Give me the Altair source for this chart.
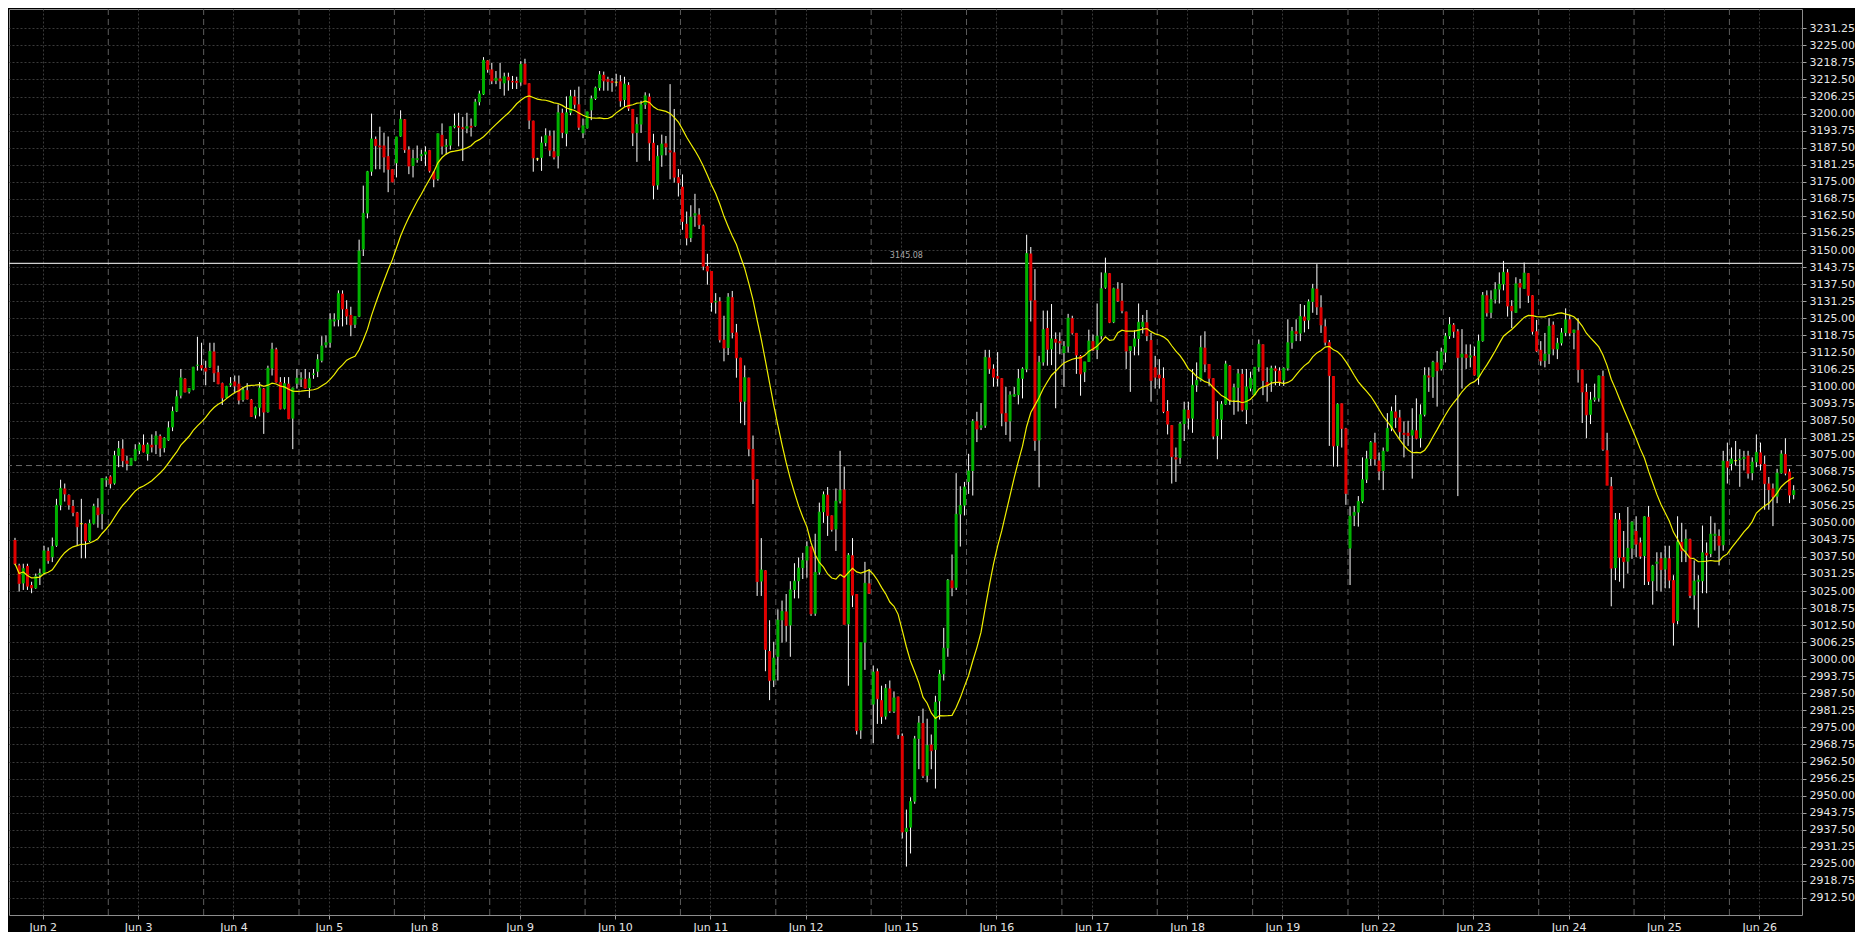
import altair as alt
import pandas as pd

# ---------------- data ----------------
O = [
    3043.7, 3034.4, 3027.8, 3034.2, 3027.2, 3026.0, 3030.8, 3031.4, 3039.7, 3037.4,
    3041.6, 3056.4, 3062.6, 3060.2, 3056.2, 3053.8, 3049.7, 3049.7, 3043.4, 3049.7,
    3055.6, 3053.2, 3065.6, 3067.0, 3064.4, 3074.6, 3077.2, 3072.8, 3071.0, 3072.8,
    3076.4, 3078.6, 3075.2, 3078.6, 3078.6, 3081.8, 3077.4, 3080.2, 3085.0, 3090.8,
    3096.6, 3102.8, 3098.0, 3098.8, 3107.6, 3107.8, 3106.8, 3107.0, 3112.8, 3105.2,
    3101.2, 3095.8, 3100.4, 3101.8, 3101.0, 3095.0, 3098.6, 3095.2, 3089.4, 3092.2,
    3099.2, 3090.6, 3106.6, 3113.6, 3101.6, 3091.8, 3101.0, 3088.2, 3101.0, 3102.6,
    3102.8, 3099.4, 3104.2, 3105.4, 3109.4, 3115.1, 3116.0, 3123.8, 3124.4, 3134.0,
    3128.4, 3126.2, 3122.6, 3125.6, 3150.2, 3163.4, 3178.7, 3190.7, 3188.3, 3188.3,
    3184.4, 3179.6, 3181.8, 3191.6, 3197.9, 3186.8, 3180.8, 3183.0, 3184.4, 3185.0,
    3186.6, 3178.7, 3176.0, 3192.2, 3187.8, 3188.3, 3195.0, 3195.5, 3195.0, 3194.5,
    3195.5, 3195.5, 3204.2, 3207.0, 3219.5, 3216.2, 3212.0, 3212.9, 3211.1, 3213.5,
    3212.0, 3212.0, 3211.4, 3218.3, 3211.1, 3197.4, 3183.4, 3183.8, 3189.2, 3191.9,
    3186.2, 3184.4, 3200.3, 3192.6, 3200.3, 3206.3, 3203.4, 3192.8, 3194.6, 3201.2,
    3205.4, 3209.4, 3214.2, 3212.6, 3212.0, 3211.5, 3211.8, 3205.0, 3210.5, 3201.7,
    3192.9, 3196.0, 3203.2, 3206.2, 3189.3, 3173.7, 3184.7, 3189.1, 3186.5, 3185.8,
    3176.7, 3173.2, 3159.6, 3154.4, 3162.6, 3163.0, 3159.0, 3144.1, 3142.3, 3130.8,
    3131.2, 3117.1, 3114.1, 3132.7, 3119.8, 3110.5, 3094.4, 3103.2, 3077.1, 3066.0,
    3028.5, 3032.6, 3003.0, 2992.2, 3000.9, 3014.3, 3017.5, 3012.4, 3025.4, 3028.6,
    3033.4, 3036.2, 3041.3, 3016.7, 3031.8, 3053.9, 3060.3, 3052.7, 3047.6, 3057.9,
    3062.2, 3012.8, 3038.1, 3023.9, 2973.9, 3006.1, 3027.8, 2983.4, 2995.6, 2985.0,
    2979.0, 2989.3, 2980.8, 2986.3, 2971.9, 2936.7, 2938.3, 2947.8, 2970.8, 2976.6,
    2957.3, 2968.7, 2966.8, 2984.6, 2994.5, 3004.0, 3028.9, 3026.2, 3053.1, 3056.3,
    3065.0, 3069.0, 3087.2, 3084.8, 3085.6, 3110.6, 3106.5, 3103.8, 3103.0, 3090.2,
    3087.2, 3096.3, 3096.8, 3102.8, 3106.2, 3148.7, 3131.6, 3080.2, 3108.8, 3121.4,
    3113.6, 3117.4, 3116.6, 3112.2, 3114.6, 3125.0, 3119.6, 3111.2, 3105.2, 3109.0,
    3116.6, 3113.4, 3118.4, 3136.2, 3141.5, 3123.5, 3135.8, 3131.4, 3127.4, 3113.0,
    3114.6, 3117.4, 3121.8, 3123.5, 3117.0, 3107.0, 3104.3, 3103.1, 3091.0, 3085.8,
    3074.0, 3073.8, 3086.2, 3091.4, 3088.2, 3100.4, 3102.2, 3114.2, 3108.2, 3103.0,
    3081.8, 3087.8, 3093.4, 3107.6, 3095.0, 3099.5, 3104.6, 3091.4, 3099.2, 3096.8,
    3107.0, 3115.4, 3101.6, 3101.8, 3106.6, 3105.8, 3102.2, 3106.6, 3116.0, 3120.2,
    3119.4, 3125.6, 3124.2, 3131.0, 3135.8, 3129.0, 3122.0, 3116.2, 3103.8, 3078.2,
    3093.8, 3084.6, 3040.6, 3052.6, 3053.8, 3057.8, 3065.8, 3073.4, 3079.4, 3072.8,
    3069.0, 3076.2, 3084.6, 3090.8, 3088.6, 3083.0, 3083.0, 3082.0, 3083.9, 3081.0,
    3089.6, 3104.0, 3103.4, 3108.8, 3106.4, 3112.4, 3118.4, 3122.6, 3120.2, 3110.6,
    3111.8, 3110.6, 3111.2, 3103.4, 3116.6, 3133.4, 3127.0, 3131.8, 3135.5, 3137.4,
    3141.8, 3129.5, 3127.0, 3137.9, 3135.8, 3141.5, 3133.4, 3120.2, 3113.4, 3109.4,
    3111.8, 3122.6, 3113.6, 3115.8, 3119.6, 3124.6, 3119.6, 3120.6, 3106.2, 3098.0,
    3089.6, 3095.0, 3095.6, 3103.8, 3076.6, 3063.4, 3033.4, 3051.2, 3037.4, 3035.8,
    3040.6, 3047.0, 3042.8, 3037.8, 3052.2, 3028.6, 3035.0, 3037.0, 3032.9, 3037.0,
    3029.0, 3014.0, 3043.0, 3039.8, 3044.0, 3023.4, 3028.4, 3028.6, 3039.0, 3038.6,
    3045.2, 3045.2, 3041.8, 3072.6, 3071.6, 3072.8, 3073.0, 3073.4, 3074.6, 3068.2,
    3072.2, 3075.8, 3071.6, 3064.4, 3062.6, 3059.6, 3068.2, 3075.2, 3068.8, 3060.2,
]
H = [
    3044.5, 3035.0, 3035.0, 3035.0, 3028.4, 3031.4, 3033.2, 3041.6, 3041.0, 3044.6,
    3058.8, 3065.8, 3064.4, 3060.4, 3058.4, 3054.0, 3058.8, 3049.8, 3051.2, 3057.0,
    3059.0, 3066.4, 3067.0, 3067.4, 3076.4, 3080.0, 3080.6, 3074.6, 3073.8, 3078.8,
    3079.4, 3082.4, 3079.4, 3082.4, 3083.6, 3082.4, 3081.4, 3087.2, 3092.6, 3098.6,
    3106.4, 3103.0, 3099.4, 3107.2, 3118.2, 3116.0, 3109.4, 3116.0, 3116.0, 3107.6,
    3101.4, 3100.2, 3103.4, 3104.0, 3104.0, 3099.8, 3101.2, 3095.4, 3092.6, 3101.6,
    3099.4, 3107.6, 3116.0, 3114.2, 3103.4, 3103.4, 3103.4, 3099.6, 3106.4, 3105.2,
    3106.4, 3105.2, 3106.4, 3111.8, 3118.4, 3118.7, 3126.8, 3126.8, 3135.2, 3135.2,
    3131.6, 3129.2, 3125.6, 3153.8, 3173.6, 3179.0, 3200.0, 3191.6, 3195.2, 3193.0,
    3191.6, 3179.6, 3191.5, 3201.2, 3198.0, 3188.0, 3186.8, 3188.3, 3186.8, 3188.0,
    3186.7, 3178.8, 3192.7, 3196.4, 3190.7, 3195.3, 3200.0, 3200.3, 3198.8, 3200.3,
    3198.2, 3205.4, 3208.4, 3220.7, 3219.6, 3218.6, 3215.6, 3218.6, 3215.0, 3215.0,
    3213.8, 3213.5, 3219.2, 3220.1, 3211.1, 3197.4, 3183.8, 3191.6, 3194.6, 3193.8,
    3193.8, 3203.4, 3201.8, 3206.3, 3208.7, 3208.7, 3209.9, 3198.2, 3200.7, 3206.6,
    3209.9, 3215.6, 3215.4, 3213.5, 3213.0, 3214.6, 3214.1, 3213.5, 3211.5, 3201.7,
    3198.7, 3204.7, 3207.8, 3207.4, 3192.6, 3188.4, 3192.3, 3191.8, 3210.8, 3201.7,
    3179.7, 3177.7, 3164.1, 3166.4, 3170.6, 3165.3, 3159.3, 3148.6, 3142.3, 3134.2,
    3132.7, 3125.9, 3134.2, 3135.0, 3122.9, 3110.5, 3107.7, 3103.2, 3082.0, 3066.0,
    3044.4, 3032.6, 3014.3, 3006.4, 3018.3, 3021.5, 3023.9, 3028.6, 3035.2, 3037.3,
    3039.0, 3043.2, 3041.3, 3046.0, 3057.4, 3061.5, 3063.1, 3052.7, 3062.6, 3076.4,
    3070.6, 3038.9, 3044.4, 3023.9, 3006.1, 3035.7, 3033.0, 2997.7, 2996.6, 2990.3,
    2990.9, 2992.2, 2988.2, 2986.3, 2972.8, 2944.9, 2949.4, 2971.9, 2979.2, 2981.9,
    2978.2, 2972.4, 2986.6, 2996.1, 3011.5, 3029.4, 3038.4, 3068.2, 3063.4, 3065.0,
    3075.3, 3088.0, 3090.7, 3093.9, 3113.4, 3113.4, 3108.1, 3112.6, 3103.0, 3099.8,
    3098.2, 3099.8, 3106.4, 3107.0, 3155.6, 3151.1, 3143.0, 3111.2, 3127.8, 3127.8,
    3130.2, 3119.8, 3119.8, 3116.6, 3126.6, 3125.9, 3119.6, 3111.5, 3109.0, 3120.8,
    3119.0, 3130.4, 3141.8, 3147.2, 3141.5, 3136.2, 3138.2, 3137.9, 3127.4, 3114.6,
    3120.6, 3130.4, 3126.2, 3128.0, 3119.6, 3111.2, 3110.0, 3107.0, 3095.0, 3085.8,
    3077.6, 3087.0, 3094.4, 3094.4, 3106.4, 3108.8, 3118.6, 3120.2, 3108.2, 3103.0,
    3094.6, 3094.6, 3109.4, 3107.8, 3101.0, 3106.4, 3106.4, 3106.4, 3105.4, 3107.0,
    3117.2, 3115.4, 3107.0, 3107.6, 3107.6, 3107.0, 3107.0, 3124.6, 3121.8, 3124.6,
    3130.2, 3129.8, 3131.9, 3137.6, 3144.8, 3133.4, 3124.6, 3117.0, 3103.8, 3093.8,
    3093.8, 3084.8, 3056.0, 3056.2, 3059.8, 3074.0, 3076.4, 3080.0, 3083.0, 3075.8,
    3077.6, 3090.2, 3092.6, 3096.8, 3091.4, 3087.2, 3087.4, 3092.0, 3095.6, 3093.4,
    3107.0, 3107.0, 3109.4, 3113.0, 3114.2, 3119.6, 3125.4, 3123.2, 3121.0, 3121.0,
    3115.4, 3115.4, 3114.6, 3119.0, 3134.6, 3135.2, 3135.2, 3138.2, 3141.8, 3146.0,
    3143.0, 3131.6, 3140.0, 3139.4, 3145.4, 3141.5, 3133.4, 3124.4, 3116.6, 3119.6,
    3125.0, 3123.8, 3117.8, 3121.4, 3128.6, 3126.2, 3120.8, 3125.0, 3106.2, 3101.0,
    3098.0, 3101.0, 3104.0, 3105.8, 3083.0, 3066.8, 3053.6, 3053.6, 3047.0, 3055.8,
    3050.6, 3052.4, 3044.6, 3052.4, 3056.2, 3034.6, 3039.2, 3039.2, 3041.6, 3041.6,
    3030.8, 3052.4, 3050.0, 3047.6, 3044.2, 3036.2, 3030.8, 3049.0, 3042.8, 3052.4,
    3050.0, 3047.6, 3076.4, 3079.4, 3077.6, 3080.0, 3077.0, 3076.4, 3076.4, 3074.0,
    3082.4, 3079.4, 3074.6, 3066.8, 3064.4, 3069.8, 3076.6, 3081.0, 3069.8, 3063.8,
]
L = [
    3034.5, 3024.8, 3025.4, 3025.4, 3024.2, 3025.8, 3027.2, 3031.0, 3035.0, 3035.6,
    3041.2, 3054.6, 3057.8, 3054.8, 3052.4, 3041.6, 3037.0, 3037.0, 3043.0, 3049.4,
    3048.2, 3047.6, 3063.2, 3062.6, 3064.0, 3070.4, 3070.4, 3069.2, 3070.8, 3072.6,
    3075.2, 3075.8, 3072.8, 3075.8, 3075.2, 3074.2, 3075.8, 3080.0, 3083.6, 3090.6,
    3095.6, 3097.8, 3097.4, 3098.6, 3105.8, 3105.8, 3100.4, 3106.8, 3101.6, 3100.8,
    3093.2, 3095.6, 3099.8, 3097.4, 3093.4, 3094.4, 3095.2, 3088.8, 3088.2, 3089.0,
    3082.6, 3090.4, 3104.0, 3101.4, 3091.6, 3091.6, 3088.0, 3077.0, 3099.2, 3099.8,
    3099.2, 3095.8, 3102.8, 3103.4, 3108.8, 3114.2, 3114.2, 3122.0, 3122.0, 3122.0,
    3122.6, 3118.4, 3121.4, 3125.4, 3147.8, 3161.6, 3177.2, 3179.6, 3179.6, 3178.4,
    3171.2, 3174.8, 3176.6, 3191.5, 3185.6, 3177.8, 3176.6, 3182.0, 3182.6, 3180.8,
    3178.4, 3173.0, 3175.4, 3185.0, 3185.0, 3186.8, 3194.6, 3188.0, 3182.6, 3192.8,
    3191.6, 3195.2, 3203.0, 3206.8, 3215.0, 3210.8, 3210.8, 3209.0, 3206.6, 3208.4,
    3209.0, 3209.0, 3210.2, 3210.8, 3194.3, 3178.7, 3182.6, 3179.0, 3188.0, 3184.4,
    3183.2, 3179.9, 3191.0, 3188.0, 3199.4, 3201.8, 3194.0, 3191.0, 3194.5, 3197.6,
    3205.0, 3208.4, 3208.4, 3208.4, 3208.0, 3210.0, 3202.5, 3202.5, 3201.0, 3188.1,
    3182.3, 3192.9, 3201.7, 3182.7, 3168.6, 3172.1, 3180.5, 3184.7, 3175.9, 3174.7,
    3169.6, 3157.4, 3151.7, 3152.9, 3158.5, 3157.7, 3142.6, 3137.3, 3127.4, 3126.7,
    3116.1, 3109.2, 3111.5, 3117.6, 3103.2, 3086.5, 3085.8, 3074.4, 3056.9, 3023.2,
    3023.2, 2995.6, 2985.0, 2989.8, 2992.2, 3006.1, 3006.4, 3000.9, 3022.3, 3022.3,
    3029.4, 3029.9, 3015.9, 3015.9, 3031.0, 3050.0, 3045.2, 3046.8, 3039.7, 3057.1,
    3012.8, 2990.3, 3019.1, 2972.4, 2970.8, 2996.1, 3023.9, 2969.2, 2976.3, 2976.3,
    2977.9, 2980.3, 2980.3, 2970.8, 2934.3, 2924.0, 2928.8, 2947.0, 2959.7, 2956.5,
    2954.9, 2959.7, 2952.6, 2977.9, 2992.2, 3000.9, 3023.1, 3025.4, 3041.3, 3052.7,
    3060.6, 3060.0, 3079.6, 3084.0, 3084.8, 3104.6, 3099.9, 3100.0, 3085.4, 3082.2,
    3079.8, 3096.2, 3093.4, 3095.6, 3105.2, 3123.8, 3076.4, 3063.0, 3107.6, 3107.6,
    3107.8, 3092.0, 3111.8, 3099.8, 3112.4, 3119.0, 3104.6, 3096.6, 3101.6, 3109.0,
    3113.0, 3110.0, 3117.2, 3135.8, 3123.2, 3123.2, 3131.0, 3126.8, 3106.4, 3098.0,
    3111.4, 3111.4, 3119.4, 3116.6, 3094.4, 3099.2, 3099.2, 3090.2, 3082.4, 3064.4,
    3065.0, 3071.6, 3080.0, 3084.2, 3083.0, 3098.0, 3101.8, 3105.2, 3100.2, 3080.6,
    3073.3, 3080.6, 3093.2, 3093.2, 3089.6, 3090.8, 3090.8, 3086.2, 3098.2, 3096.8,
    3105.4, 3096.8, 3094.4, 3098.0, 3100.4, 3100.2, 3100.2, 3105.8, 3113.8, 3116.6,
    3116.6, 3119.8, 3121.0, 3127.0, 3126.2, 3119.6, 3115.0, 3078.2, 3070.6, 3070.6,
    3077.6, 3056.6, 3027.2, 3048.8, 3048.6, 3057.2, 3064.6, 3071.0, 3071.0, 3065.6,
    3062.0, 3076.2, 3083.6, 3084.8, 3080.6, 3074.0, 3078.2, 3066.2, 3080.6, 3077.6,
    3089.0, 3098.0, 3095.8, 3092.6, 3105.8, 3108.8, 3117.4, 3117.8, 3059.8, 3099.2,
    3106.4, 3107.0, 3104.0, 3100.6, 3116.4, 3125.6, 3125.0, 3130.4, 3130.4, 3135.2,
    3125.6, 3121.4, 3127.0, 3128.6, 3135.8, 3130.6, 3119.0, 3112.6, 3107.6, 3107.0,
    3108.2, 3111.4, 3110.0, 3115.0, 3118.4, 3118.4, 3113.6, 3101.4, 3086.6, 3081.0,
    3086.2, 3094.4, 3094.4, 3076.4, 3063.8, 3019.4, 3029.0, 3028.4, 3026.0, 3031.4,
    3036.8, 3037.4, 3036.8, 3027.2, 3027.2, 3020.0, 3025.0, 3024.8, 3026.0, 3026.0,
    3005.0, 3012.8, 3035.6, 3035.6, 3022.4, 3018.2, 3011.6, 3024.2, 3024.2, 3037.4,
    3039.8, 3034.4, 3039.8, 3064.4, 3069.2, 3071.0, 3063.2, 3069.2, 3066.2, 3065.6,
    3070.4, 3069.2, 3054.8, 3054.8, 3048.8, 3057.2, 3068.0, 3067.4, 3057.2, 3058.6,
]
C = [
    3035.0, 3027.8, 3033.2, 3026.8, 3026.2, 3030.4, 3031.4, 3039.7, 3036.2, 3041.3,
    3056.4, 3062.6, 3060.6, 3056.6, 3053.8, 3048.6, 3049.7, 3043.4, 3049.7, 3056.0,
    3053.0, 3066.2, 3066.2, 3064.4, 3074.6, 3077.2, 3072.8, 3071.8, 3073.6, 3076.8,
    3078.6, 3076.0, 3078.6, 3077.8, 3081.8, 3077.4, 3081.0, 3084.8, 3090.8, 3096.2,
    3103.1, 3098.0, 3099.2, 3107.0, 3107.8, 3106.8, 3105.6, 3112.8, 3105.0, 3101.0,
    3095.8, 3100.0, 3101.0, 3100.2, 3095.0, 3098.6, 3095.4, 3089.0, 3092.2, 3099.4,
    3090.6, 3106.6, 3113.6, 3101.6, 3091.8, 3101.0, 3088.2, 3099.4, 3103.0, 3103.0,
    3099.4, 3102.8, 3104.6, 3109.8, 3114.8, 3116.0, 3124.4, 3124.4, 3134.0, 3128.4,
    3125.8, 3122.6, 3125.6, 3149.6, 3163.4, 3178.7, 3190.7, 3188.3, 3187.8, 3184.1,
    3179.6, 3175.0, 3191.4, 3197.9, 3186.8, 3180.8, 3183.5, 3183.5, 3185.0, 3185.9,
    3179.0, 3176.0, 3192.6, 3188.1, 3188.3, 3195.2, 3195.5, 3195.0, 3194.5, 3195.2,
    3195.0, 3204.2, 3207.2, 3219.5, 3216.2, 3212.0, 3212.9, 3212.0, 3213.5, 3212.3,
    3211.6, 3211.4, 3218.0, 3210.8, 3197.6, 3183.8, 3183.4, 3189.2, 3191.9, 3186.6,
    3184.1, 3200.3, 3193.1, 3200.3, 3206.3, 3203.4, 3195.0, 3195.5, 3200.6, 3205.4,
    3209.4, 3214.2, 3212.0, 3211.8, 3211.4, 3211.5, 3204.7, 3210.8, 3202.0, 3192.9,
    3196.0, 3203.2, 3206.5, 3189.3, 3173.7, 3184.3, 3188.8, 3187.8, 3185.9, 3176.7,
    3174.7, 3160.5, 3154.4, 3162.0, 3163.3, 3159.3, 3144.1, 3142.3, 3130.8, 3131.2,
    3117.1, 3114.1, 3132.7, 3119.8, 3110.5, 3094.4, 3103.2, 3077.1, 3066.0, 3028.5,
    3032.7, 3003.6, 2992.2, 3000.4, 3014.3, 3017.5, 3012.4, 3025.4, 3028.6, 3033.4,
    3036.2, 3041.3, 3016.7, 3031.8, 3053.9, 3060.3, 3052.7, 3047.6, 3057.9, 3061.9,
    3012.8, 3038.1, 3023.5, 2973.9, 3006.1, 3027.8, 3024.2, 2995.3, 2985.5, 2979.0,
    2989.3, 2981.1, 2985.8, 2972.4, 2936.7, 2938.0, 2947.8, 2970.8, 2976.6, 2957.3,
    2968.4, 2966.5, 2984.2, 2994.5, 3004.0, 3028.9, 3026.2, 3053.1, 3056.3, 3063.1,
    3069.0, 3087.2, 3084.4, 3085.6, 3110.6, 3106.5, 3103.4, 3103.0, 3090.2, 3087.2,
    3096.8, 3097.0, 3102.8, 3106.4, 3148.7, 3131.6, 3080.2, 3108.8, 3120.8, 3113.6,
    3117.4, 3116.2, 3116.0, 3114.6, 3125.0, 3119.6, 3111.5, 3104.6, 3109.0, 3116.6,
    3113.4, 3118.4, 3135.8, 3141.5, 3123.5, 3135.8, 3131.4, 3127.8, 3113.0, 3114.6,
    3117.4, 3123.5, 3123.5, 3118.6, 3102.2, 3103.4, 3103.1, 3090.8, 3086.2, 3074.3,
    3073.4, 3086.2, 3091.4, 3088.4, 3100.4, 3102.2, 3114.2, 3108.2, 3103.0, 3081.8,
    3087.8, 3093.4, 3108.2, 3095.0, 3099.5, 3104.6, 3091.4, 3099.8, 3103.0, 3107.0,
    3115.4, 3102.2, 3100.2, 3106.6, 3105.8, 3101.8, 3106.6, 3116.0, 3120.2, 3119.4,
    3125.6, 3124.2, 3131.0, 3135.8, 3129.2, 3122.6, 3116.2, 3104.0, 3078.2, 3093.4,
    3084.6, 3060.8, 3052.4, 3053.8, 3057.8, 3065.8, 3073.4, 3079.4, 3073.4, 3069.0,
    3076.2, 3084.6, 3090.8, 3088.6, 3083.4, 3082.4, 3082.0, 3083.9, 3081.0, 3089.6,
    3104.0, 3103.4, 3108.8, 3105.8, 3112.6, 3118.4, 3122.6, 3120.2, 3110.6, 3111.8,
    3110.6, 3111.2, 3104.2, 3116.6, 3133.4, 3127.0, 3131.8, 3135.5, 3137.4, 3141.8,
    3129.5, 3127.8, 3137.6, 3136.4, 3141.5, 3133.4, 3120.2, 3113.0, 3109.4, 3111.8,
    3122.0, 3113.8, 3115.8, 3119.6, 3124.4, 3119.6, 3120.6, 3106.2, 3098.0, 3089.6,
    3095.0, 3095.8, 3103.8, 3077.0, 3063.8, 3033.4, 3051.2, 3037.4, 3035.8, 3040.6,
    3050.2, 3042.2, 3037.8, 3052.2, 3028.6, 3034.2, 3035.6, 3032.9, 3037.0, 3029.0,
    3013.4, 3043.0, 3039.8, 3044.0, 3023.4, 3028.6, 3029.0, 3039.0, 3038.2, 3045.8,
    3045.8, 3041.8, 3072.6, 3070.4, 3073.4, 3072.8, 3073.4, 3074.0, 3068.2, 3072.2,
    3075.8, 3071.6, 3064.4, 3062.2, 3059.6, 3068.2, 3075.2, 3068.2, 3060.2, 3061.8,
]

day_labels = ["Jun 2", "Jun 3", "Jun 4", "Jun 5", "Jun 8", "Jun 9", "Jun 10",
              "Jun 11", "Jun 12", "Jun 15", "Jun 16", "Jun 17", "Jun 18",
              "Jun 19", "Jun 22", "Jun 23", "Jun 24", "Jun 25", "Jun 26"]
day_tick_pos = [6.7, 29.7, 52.7, 75.7, 98.7, 121.7, 144.7, 167.7, 190.7, 213.7,
                236.7, 259.7, 282.7, 305.7, 328.7, 351.7, 374.7, 397.7, 420.7]
session_breaks = [22.5, 45.5, 68.5, 91.5, 114.5, 137.5, 160.5, 183.5, 206.5,
                  229.5, 252.5, 275.5, 298.5, 321.5, 344.5, 367.5, 390.5, 413.5]
price_ticks = [2912.5 + 6.25 * k for k in range(52)]

level_line = 3145.08
level_text = "3145.08"
bid_line = 3071.0
ma_period = 20

# ---------------- chart ----------------
df = pd.DataFrame({"i": list(range(len(C))), "open": O, "high": H,
                   "low": L, "close": C})
df["dir"] = ["up" if c > o else ("down" if c < o else "doji")
             for o, c in zip(O, C)]

GREEN, RED, YELLOW = "#00b000", "#e00000", "#ffff00"
GRID = "#3a3a3a"
FONT = "DejaVu Sans"
W, HT = 1793, 906

xscale = alt.Scale(domain=[-0.24, 429.8], nice=False, zero=False)
yscale = alt.Scale(domain=[2906.25, 3238.34], nice=False, zero=False)

label_arr = "[" + ",".join("'%s'" % d for d in day_labels) + "]"
xaxis = alt.Axis(values=day_tick_pos,
                 labelExpr=label_arr + "[round((datum.value - 6.7) / 23)]",
                 grid=True, gridColor=GRID, gridDash=[2, 2], gridWidth=1,
                 ticks=True, tickSize=4, tickColor="#a0a0a0", domain=False,
                 labelColor="#e6e6e6", labelFont=FONT, labelFontSize=11,
                 labelPadding=2, labelOverlap=False, title=None)
yaxis = alt.Axis(orient="right", values=price_ticks, format=".2f",
                 grid=True, gridColor=GRID, gridDash=[2, 2], gridWidth=1,
                 ticks=True, tickSize=4, tickColor="#a0a0a0", domain=False,
                 labelColor="#e6e6e6", labelFont=FONT, labelFontSize=11,
                 labelPadding=3, labelOverlap=False, title=None)

X = alt.X("i:Q", scale=xscale, axis=xaxis)
color = alt.Color("dir:N", scale=alt.Scale(domain=["up", "down", "doji"],
                                           range=[GREEN, RED, YELLOW]),
                  legend=None)

breaks = alt.Chart(pd.DataFrame({"pos": session_breaks})).mark_rule(
    color="#5c5c5c", strokeDash=[6, 4], strokeWidth=1
).encode(x=alt.X("pos:Q", scale=xscale, axis=xaxis))

bid = alt.Chart(pd.DataFrame({"lvl": [bid_line]})).mark_rule(
    color="#6a6a6a", strokeDash=[6, 4], strokeWidth=1
).encode(y=alt.Y("lvl:Q", scale=yscale, axis=yaxis))

level = alt.Chart(pd.DataFrame({"lvl": [level_line]})).mark_rule(
    color="#d0d0d0", strokeWidth=1.3
).encode(y=alt.Y("lvl:Q", scale=yscale, axis=yaxis))

level_lbl = alt.Chart(pd.DataFrame({"lvl": [level_line], "pos": [215.0],
                                    "txt": [level_text]})).mark_text(
    color="#a8a8a8", fontSize=8, font=FONT, baseline="bottom", dy=-3
).encode(x=alt.X("pos:Q", scale=xscale, axis=xaxis),
         y=alt.Y("lvl:Q", scale=yscale, axis=yaxis), text="txt:N")

base = alt.Chart(df)
wicks = base.mark_rule(color="#ffffff", strokeWidth=1).encode(
    x=X, y=alt.Y("low:Q", scale=yscale, axis=yaxis), y2="high:Q")
bodies = base.mark_bar(size=3).encode(
    x=X, y=alt.Y("open:Q", scale=yscale, axis=yaxis), y2="close:Q",
    color=color)
closes = base.mark_tick(size=3, thickness=1.2, orient="horizontal").encode(
    x=X, y=alt.Y("close:Q", scale=yscale, axis=yaxis), color=color)
ma = base.transform_window(
    ma="mean(close)", frame=[-(ma_period - 1), 0], sort=[{"field": "i"}]
).mark_line(color="#f0f000", strokeWidth=1.2).encode(
    x=X, y=alt.Y("ma:Q", scale=yscale, axis=yaxis))

chart = alt.layer(breaks, bid, level, level_lbl, wicks, bodies, closes, ma).properties(
    width=W, height=HT, padding={"left": 0, "top": 0, "right": 0, "bottom": 0},
    background="#000000"
).configure_view(stroke="#8c8c8c", strokeWidth=1)

chart.save("out.html", embed_options={"renderer": "svg", "actions": False})
